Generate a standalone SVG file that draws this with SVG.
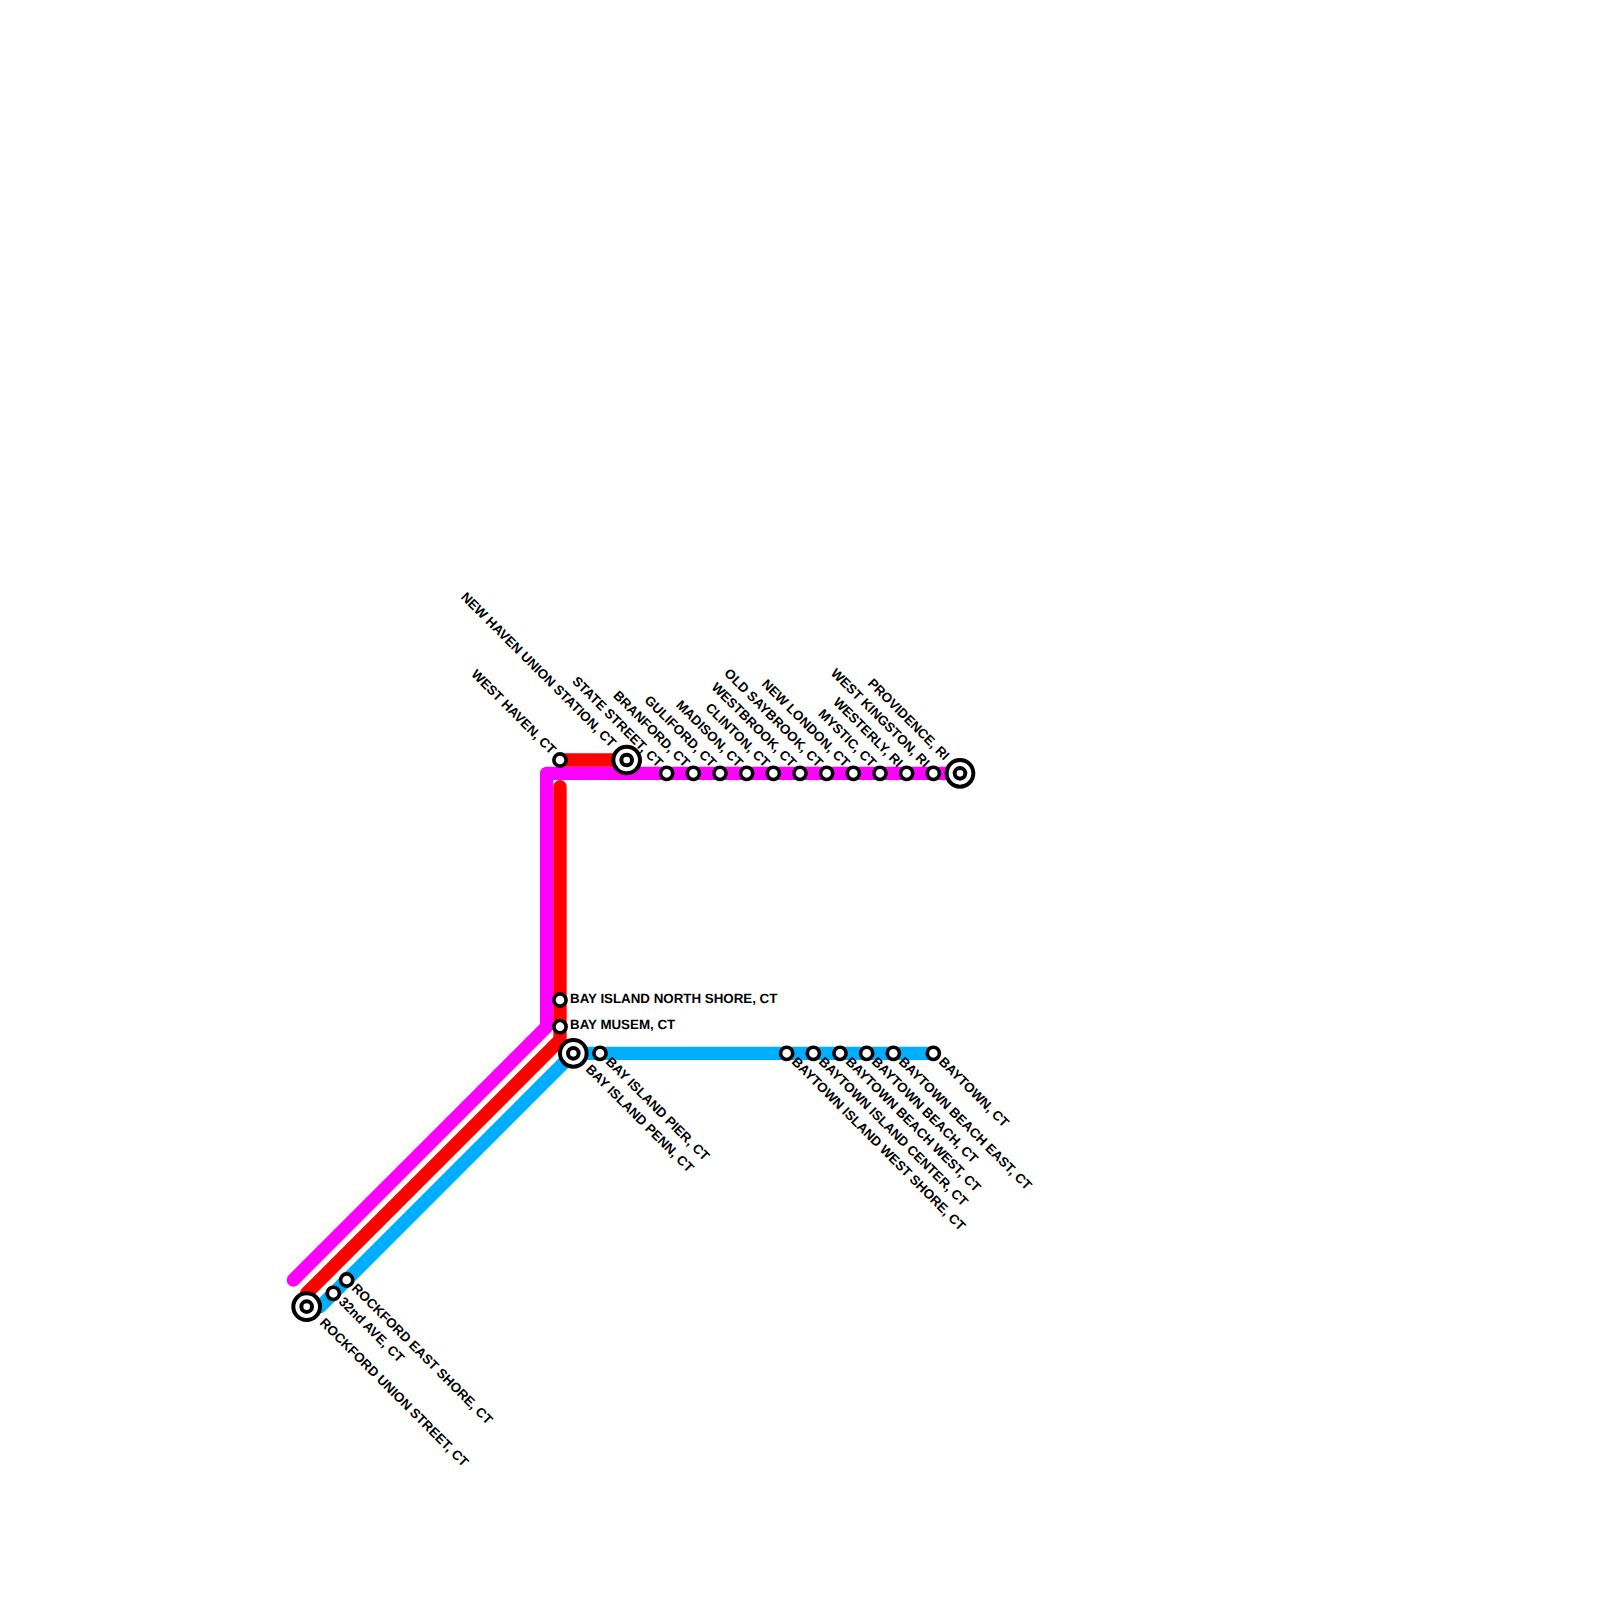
<svg xmlns="http://www.w3.org/2000/svg" width="1600" height="1600" viewBox="0 0 1600 1600">
<style>
.l{fill:none;stroke-width:13.33;stroke-linecap:round;stroke-linejoin:round}
.s{fill:#fff;stroke:#000;stroke-width:3.6}
.b{fill:#fff;stroke:#000;stroke-width:4}
.i{fill:#fff;stroke:#000;stroke-width:4}
text{font-family:"Liberation Sans",Arial,sans-serif;font-weight:bold;font-size:13.33px;fill:#000;text-rendering:geometricPrecision}
.u{text-anchor:end}
</style>
<defs>
<circle id="st" r="6.1" class="s"/>
<g id="hub"><circle r="13.33" class="b"/><circle r="5.33" class="i"/></g>
</defs>
<rect width="1600" height="1600" fill="#fff"/>
<g id="connectors">
<path class="l" stroke="#ff00ff" d="M293.33 1280L546.67 1026.67V773.33H960"/>
<path class="l" stroke="#ff0000" d="M560 760H626.67"/>
<path class="l" stroke="#ff0000" d="M560 786.67V1040L306.67 1293.33"/>
<path class="l" stroke="#00aeff" d="M933.33 1053.33H573.33L320 1306.67"/>
</g>
<g id="west-haven"><use href="#st" x="560" y="760"/><text class="u" transform="translate(550.5,755) rotate(45)">WEST HAVEN, CT</text></g>
<g id="new-haven"><use href="#hub" x="626.67" y="760"/><text class="u" transform="translate(610.5,748) rotate(45)">NEW HAVEN UNION STATION, CT</text></g>
<g id="state-street"><use href="#st" x="666.67" y="773.33"/><text class="u" transform="translate(657.5,768) rotate(45)">STATE STREET, CT</text></g>
<g id="branford"><use href="#st" x="693.33" y="773.33"/><text class="u" transform="translate(684.2,768) rotate(45)">BRANFORD, CT</text></g>
<g id="guliford"><use href="#st" x="720" y="773.33"/><text class="u" transform="translate(710.8,768) rotate(45)">GULIFORD, CT</text></g>
<g id="madison"><use href="#st" x="746.67" y="773.33"/><text class="u" transform="translate(737.5,768) rotate(45)">MADISON, CT</text></g>
<g id="clinton"><use href="#st" x="773.33" y="773.33"/><text class="u" transform="translate(764.2,768) rotate(45)">CLINTON, CT</text></g>
<g id="westbrook"><use href="#st" x="800" y="773.33"/><text class="u" transform="translate(790.8,768) rotate(45)">WESTBROOK, CT</text></g>
<g id="old-saybrook"><use href="#st" x="826.67" y="773.33"/><text class="u" transform="translate(817.5,768) rotate(45)">OLD SAYBROOK, CT</text></g>
<g id="new-london"><use href="#st" x="853.33" y="773.33"/><text class="u" transform="translate(844.2,768) rotate(45)">NEW LONDON, CT</text></g>
<g id="mystic"><use href="#st" x="880" y="773.33"/><text class="u" transform="translate(870.8,768) rotate(45)">MYSTIC, CT</text></g>
<g id="westerly"><use href="#st" x="906.67" y="773.33"/><text class="u" transform="translate(897.5,768) rotate(45)">WESTERLY, RI</text></g>
<g id="west-kingston"><use href="#st" x="933.33" y="773.33"/><text class="u" transform="translate(924.2,768) rotate(45)">WEST KINGSTON, RI</text></g>
<g id="providence"><use href="#hub" x="960" y="773.33"/><text class="u" transform="translate(944,761) rotate(45)">PROVIDENCE, RI</text></g>
<g id="bay-north"><use href="#st" x="560" y="1000"/><text x="570" y="1003">BAY ISLAND NORTH SHORE, CT</text></g>
<g id="bay-musem"><use href="#st" x="560" y="1026.67"/><text x="570" y="1029.3">BAY MUSEM, CT</text></g>
<g id="bay-penn"><use href="#hub" x="573.33" y="1053.33"/><text transform="translate(585,1070) rotate(45)">BAY ISLAND PENN, CT</text></g>
<g id="bay-pier"><use href="#st" x="600" y="1053.33"/><text transform="translate(605,1062.5) rotate(45)">BAY ISLAND PIER, CT</text></g>
<g id="baytown-west-shore"><use href="#st" x="786.67" y="1053.33"/><text transform="translate(791,1062.5) rotate(45)">BAYTOWN ISLAND WEST SHORE, CT</text></g>
<g id="baytown-center"><use href="#st" x="813.33" y="1053.33"/><text transform="translate(818,1062.5) rotate(45)">BAYTOWN ISLAND CENTER, CT</text></g>
<g id="baytown-beach-west"><use href="#st" x="840" y="1053.33"/><text transform="translate(845,1062.5) rotate(45)">BAYTOWN BEACH WEST, CT</text></g>
<g id="baytown-beach"><use href="#st" x="866.67" y="1053.33"/><text transform="translate(871,1062.5) rotate(45)">BAYTOWN BEACH, CT</text></g>
<g id="baytown-beach-east"><use href="#st" x="893.33" y="1053.33"/><text transform="translate(898,1062.5) rotate(45)">BAYTOWN BEACH EAST, CT</text></g>
<g id="baytown"><use href="#st" x="933.33" y="1053.33"/><text transform="translate(938,1062.5) rotate(45)">BAYTOWN, CT</text></g>
<g id="rockford-east"><use href="#st" x="346.67" y="1280"/><text transform="translate(351,1289) rotate(45)">ROCKFORD EAST SHORE, CT</text></g>
<g id="32nd"><use href="#st" x="333.33" y="1293.33"/><text transform="translate(338,1302.5) rotate(45)">32nd AVE, CT</text></g>
<g id="rockford-union"><use href="#hub" x="306.67" y="1306.67"/><text transform="translate(319,1323.5) rotate(45)">ROCKFORD UNION STREET, CT</text></g>
</svg>
